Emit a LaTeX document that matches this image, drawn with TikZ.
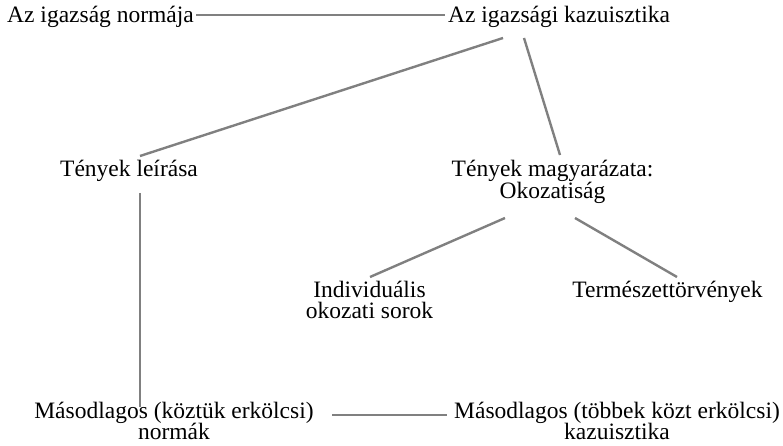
\documentclass[tikz,border=0pt]{standalone}
\usepackage{fontspec}
\setmainfont{Liberation Serif}
\definecolor{linegray}{RGB}{128,128,128}
\begin{document}
\begin{tikzpicture}[x=1pt,y=-1pt,
  lbl/.style={font=\fontsize{23.5}{21.5}\selectfont, inner sep=0pt, align=center, anchor=base},
  conn/.style={draw=linegray, line width=2.4pt}]
\useasboundingbox (0,0) rectangle (783,446);
\node[lbl] (norma) at (100.5,23) {Az igazság normája};
\node[lbl] (kazu) at (559,23) {Az igazsági kazuisztika};
\node[lbl] (leiras) at (129,177) {Tények leírása};
\node[lbl] (magy) at (552.5,198.5) {Tények magyarázata:\\Okozatiság};
\node[lbl] (indiv) at (369.5,318.5) {Individuális\\okozati sorok};
\node[lbl] (term) at (667.5,297) {Természettörvények};
\node[lbl] (masl) at (174,439.5) {Másodlagos (köztük erkölcsi)\\normák};
\node[lbl] (masr) at (617,439.5) {Másodlagos (többek közt erkölcsi)\\kazuisztika};
% connector ends
\coordinate (normaR) at (196,15);
\coordinate (kazuL) at (445,15);
\coordinate (kazuA) at (503,38);
\coordinate (leirasT) at (140,156);
\coordinate (kazuB) at (524,38);
\coordinate (magyT) at (560,155);
\coordinate (leirasB) at (140,193);
\coordinate (maslT) at (140,407);
\coordinate (magyA) at (505,218);
\coordinate (indivT) at (370,277);
\coordinate (magyB) at (575,218);
\coordinate (termT) at (677,277);
\coordinate (maslR) at (332,415);
\coordinate (masrL) at (447,415);
\draw[conn] (normaR) -- (kazuL);
\draw[conn] (kazuA) -- (leirasT);
\draw[conn] (kazuB) -- (magyT);
\draw[conn] (leirasB) -- (maslT);
\draw[conn] (magyA) -- (indivT);
\draw[conn] (magyB) -- (termT);
\draw[conn] (maslR) -- (masrL);
\end{tikzpicture}
\end{document}
